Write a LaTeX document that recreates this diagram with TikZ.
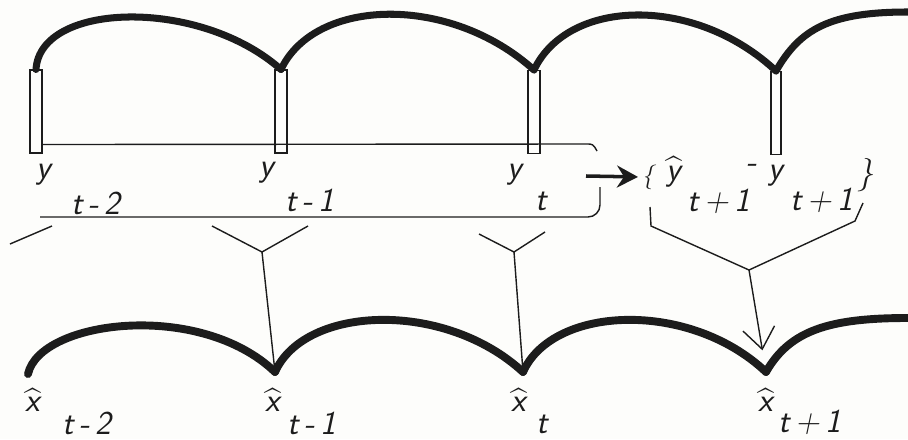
\documentclass[tikz,border=0pt]{standalone}
\usepackage{amsmath}
\usepackage{xcolor}
\usepackage{tikz}
\usetikzlibrary{arrows.meta}
\definecolor{ink}{HTML}{1C1C1C}
\definecolor{paper}{HTML}{FDFDFB}
\newcommand{\hatlbl}[1]{$\widehat{\text{#1}}$}

\begin{document}
\begin{tikzpicture}[
    x=0.02cm, y=-0.02cm,
    font=\fontsize{19}{22}\sffamily\slshape,
    every node/.style={inner sep=0pt, text=ink},
    obsbar/.style={rectangle, draw=ink, line width=0.6pt, minimum width=0.24cm,
                   minimum height=1.66cm},
    bow/.style={draw=ink, line width=4pt, line join=round, line cap=round},
    wire/.style={draw=ink, line width=0.8pt},
]
\useasboundingbox[fill=paper] (0,0) rectangle (908,439);

\node[obsbar] (b1) at (36,111.5) {};
\node[obsbar] (b2) at (281,111.5) {};
\node[obsbar] (b3) at (534,112) {};
\node[obsbar, minimum width=0.2cm] (b4) at (776,113) {};
\coordinate (topend) at (908,12);

\draw[bow] (b1.north) .. controls +(4,-68) and +(-81,-72) .. (b2.north);
\draw[bow] (b2.north) .. controls +(34,-72) and +(-84,-76) .. (b3.north);
\draw[bow] (b3.north) .. controls +(34,-72) and +(-81,-76) .. (b4.north);
\draw[bow] (b4.north) .. controls +(24,-42) and +(-78,0) .. (topend);

\coordinate (c1) at (28,374);
\coordinate (c2) at (275,372);
\coordinate (c3) at (523,372);
\coordinate (c4) at (766,372);
\coordinate (botend) at (908,318);

\draw[bow, line width=4.5pt] (c1) .. controls +(12,-54) and +(-75,-72) .. (c2);
\draw[bow, line width=4.5pt] (c2) .. controls +(30,-67) and +(-78,-72) .. (c3);
\draw[bow, line width=4.5pt] (c3) .. controls +(30,-67) and +(-76,-72) .. (c4);
\draw[bow, line width=4.5pt] (c4) .. controls +(24,-42) and +(-78,0) .. (botend);

\node (y1)  at (44,175)  {y};
\node (y1s) at (96,203)  {t\,-\,2};
\node (y2)  at (267,173) {y};
\node (y2s) at (310,200) {t\,-\,1};
\node (y3)  at (515,175) {y};
\node (y3s) at (541,201) {t};
\node[font=\fontsize{14}{16}\sffamily\slshape] (lbr) at (648,177) {\{};
\node (yh)  at (674,172) {\hatlbl{y}};
\node (yhs) at (719,201) {t\,+\,1};
\node (mn)  at (752,168) {-};
\node (yn)  at (776,176) {y};
\node (yns) at (822,200) {t\,+\,1};
\node (rbr) at (866,175) {\}};

\coordinate (brl) at (40,217);
\coordinate (brt) at (597,151);
\coordinate (brb) at (600,187);
\draw[wire] ([yshift=0.18cm]b1.south east) -- (586,144) .. controls (593,144) .. (brt);
\draw[wire, rounded corners=0.24cm] (brl) -- (600,217) -- (brb);

\coordinate (arr) at (586,176);
\draw[draw=ink, line width=2pt, shorten >=2pt,
      -{Stealth[length=0.42cm, width=0.44cm, inset=0.14cm]}] (arr) -- (lbr.west);

\coordinate (s1) at (10,244);
\coordinate (s2) at (52,226);
\draw[wire] (s1) -- (s2);

\coordinate (l1a) at (212,226);
\coordinate (l1b) at (308,226);
\coordinate (j1) at (262,252);
\draw[wire] (l1a) -- (j1) -- (l1b);
\draw[wire] (j1) -- (c2);

\coordinate (l2a) at (479,234);
\coordinate (l2b) at (545,232);
\coordinate (j2) at (514,252);
\draw[wire] (l2a) -- (j2) -- (l2b);
\draw[wire] (j2) -- (c3);

\coordinate (l3a) at (650,207);
\coordinate (l3c) at (651,226);
\coordinate (l3b) at (863,203);
\coordinate (l3d) at (855,221);
\coordinate (j3) at (749,270);
\draw[wire] (l3a) -- (l3c) -- (j3) -- (l3d) -- (l3b);
\draw[wire, shorten >=0.44cm, -{Straight Barb[length=0.42cm, width=0.64cm]}] (j3) -- (c4);

\node (x1)  at (33,400)  {\hatlbl{x}};
\node (x1s) at (87,423)  {t\,-\,2};
\node (x2)  at (273,400) {\hatlbl{x}};
\node (x2s) at (312,423) {t\,-\,1};
\node (x3)  at (519,400) {\hatlbl{x}};
\node (x3s) at (542,424) {t};
\node (x4)  at (766,400) {\hatlbl{x}};
\node (x4s) at (810,422) {t\,+\,1};
\end{tikzpicture}
\end{document}
